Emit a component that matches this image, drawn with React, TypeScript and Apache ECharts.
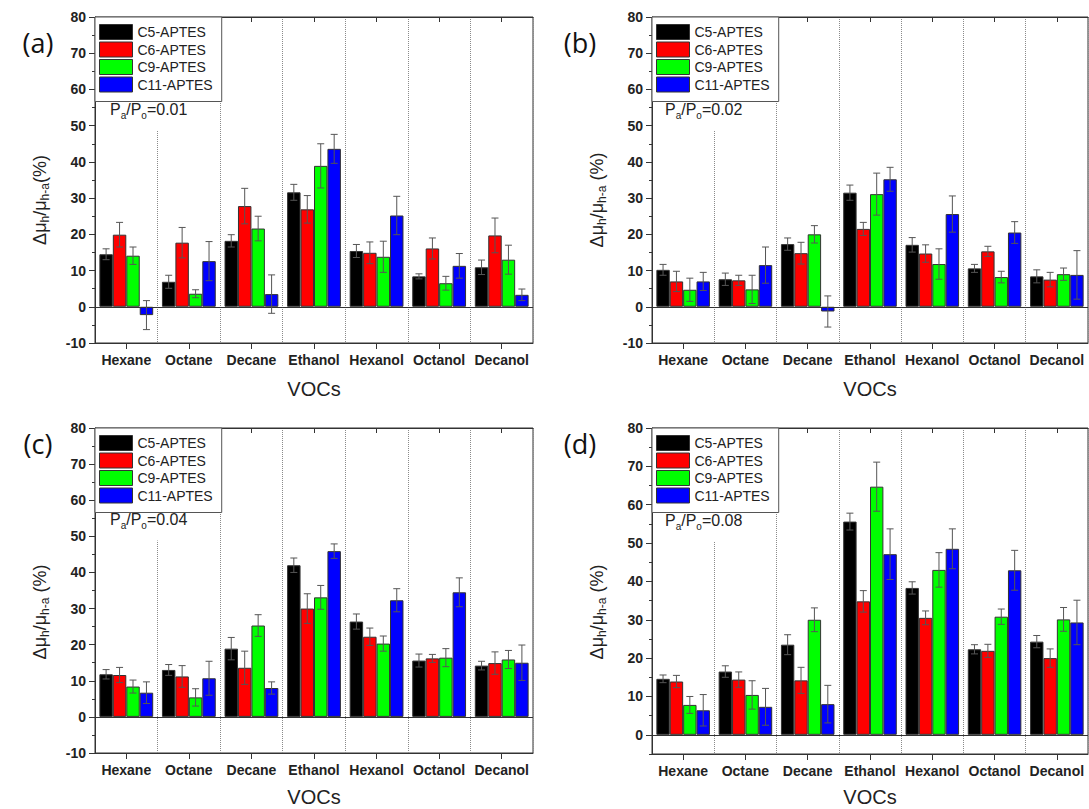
import React, { useEffect, useRef } from 'react';
import * as echarts from 'echarts';

// ---------- data ----------
const categories = ['Hexane', 'Octane', 'Decane', 'Ethanol', 'Hexanol', 'Octanol', 'Decanol'];
const seriesNames = ['C5-APTES', 'C6-APTES', 'C9-APTES', 'C11-APTES'];
const seriesColors = ['#000000', '#ff0000', '#00ff00', '#0000ff'];
const yTickLabels = ['-10', '0', '10', '20', '30', '40', '50', '60', '70', '80'];

// (a) Pa/Po = 0.01
const a_C5 = [14.5, 6.9, 18.2, 31.6, 15.4, 8.4, 10.9];
const a_C5_err = [1.5, 1.8, 1.7, 2.2, 1.8, 0.7, 2.0];
const a_C6 = [19.9, 17.7, 27.8, 26.9, 14.9, 16.1, 19.7];
const a_C6_err = [3.4, 4.2, 4.9, 3.8, 3.0, 2.9, 4.8];
const a_C9 = [14.1, 3.6, 21.6, 38.9, 13.8, 6.5, 13.0];
const a_C9_err = [2.4, 1.1, 3.4, 6.1, 4.3, 1.9, 4.0];
const a_C11 = [-2.3, 12.6, 3.5, 43.6, 25.2, 11.3, 3.3];
const a_C11_err = [4.0, 5.4, 5.3, 4.0, 5.3, 3.4, 1.6];

// (b) Pa/Po = 0.02
const b_C5 = [10.2, 7.6, 17.3, 31.5, 17.1, 10.6, 8.4];
const b_C5_err = [1.5, 1.7, 1.7, 2.1, 2.0, 1.1, 1.8];
const b_C6 = [7.0, 7.3, 14.8, 21.5, 14.7, 15.3, 7.5];
const b_C6_err = [2.8, 1.4, 3.0, 1.8, 2.4, 1.4, 2.0];
const b_C9 = [4.7, 4.8, 20.0, 31.1, 11.8, 8.2, 9.0];
const b_C9_err = [3.2, 3.9, 2.4, 5.8, 4.2, 1.6, 1.7];
const b_C11 = [7.0, 11.5, -1.3, 35.2, 25.6, 20.5, 8.8];
const b_C11_err = [2.5, 5.0, 4.3, 3.3, 5.0, 3.0, 6.7];

// (c) Pa/Po = 0.04
const c_C5 = [11.8, 13.0, 18.9, 42.0, 26.4, 15.6, 14.2];
const c_C5_err = [1.3, 1.5, 3.1, 2.0, 2.1, 1.8, 1.2];
const c_C6 = [11.6, 11.2, 13.6, 30.0, 22.2, 16.2, 14.9];
const c_C6_err = [2.1, 3.0, 4.6, 4.1, 2.4, 1.1, 3.1];
const c_C9 = [8.4, 5.4, 25.3, 33.1, 20.3, 16.4, 15.9];
const c_C9_err = [1.8, 2.4, 3.0, 3.3, 2.1, 2.5, 2.5];
const c_C11 = [6.7, 10.7, 8.0, 45.9, 32.3, 34.5, 15.0];
const c_C11_err = [3.0, 4.7, 1.7, 2.0, 3.2, 4.0, 4.9];

// (d) Pa/Po = 0.08
const d_C5 = [14.6, 16.5, 23.5, 55.6, 38.3, 22.3, 24.3];
const d_C5_err = [1.0, 1.5, 2.6, 2.2, 1.6, 1.2, 1.6];
const d_C6 = [13.9, 14.4, 14.2, 34.8, 30.5, 21.9, 20.0];
const d_C6_err = [1.6, 2.0, 3.4, 2.8, 1.8, 1.7, 2.4];
const d_C9 = [7.8, 10.4, 30.0, 64.7, 43.0, 30.8, 30.1];
const d_C9_err = [2.2, 3.7, 3.1, 6.4, 4.5, 2.0, 3.1];
const d_C11 = [6.4, 7.3, 8.0, 47.1, 48.5, 42.9, 29.3];
const d_C11_err = [4.1, 4.8, 4.9, 6.6, 5.2, 5.2, 5.8];

const panelTags = ['(a)', '(b)', '(c)', '(d)'];
const panelRatios = ['0.01', '0.02', '0.04', '0.08'];
const panelValues = [
  [a_C5, a_C6, a_C9, a_C11],
  [b_C5, b_C6, b_C9, b_C11],
  [c_C5, c_C6, c_C9, c_C11],
  [d_C5, d_C6, d_C9, d_C11],
];
const panelErrors = [
  [a_C5_err, a_C6_err, a_C9_err, a_C11_err],
  [b_C5_err, b_C6_err, b_C9_err, b_C11_err],
  [c_C5_err, c_C6_err, c_C9_err, c_C11_err],
  [d_C5_err, d_C6_err, d_C9_err, d_C11_err],
];
const panelMin = [-10, -10, -10, -5];
const panelMax = 80;

// ---------- layout ----------
const layout = [
  { left: 95, top: 17, width: 438, height: 326, tagX: 38, tagY: 42, yLabX: 40, yLabY: 200, vocY: 389, ratioX: 107, ratioY: 113, space: false },
  { left: 652, top: 17, width: 436, height: 326, tagX: 580, tagY: 42, yLabX: 597, yLabY: 200, vocY: 389, ratioX: 662, ratioY: 113, space: true },
  { left: 95, top: 428, width: 438, height: 325, tagX: 38, tagY: 443, yLabX: 40, yLabY: 612, vocY: 797, ratioX: 107, ratioY: 523, space: true },
  { left: 652, top: 428, width: 436, height: 326, tagX: 580, tagY: 443, yLabX: 597, yLabY: 612, vocY: 797, ratioX: 662, ratioY: 524, space: true },
];

const FONT = '"Liberation Sans", Arial, Helvetica, sans-serif';
const GAP = 0.14;

function buildOption() {
  const grid: any[] = [];
  const xAxis: any[] = [];
  const yAxis: any[] = [];
  const series: any[] = [];
  const legend: any[] = [];
  const graphic: any[] = [];

  layout.forEach((L, i) => {
    grid.push({
      left: L.left, top: L.top, width: L.width, height: L.height,
      show: true, borderColor: '#333', borderWidth: 1, backgroundColor: 'transparent',
    });
    xAxis.push({
      type: 'category', gridIndex: i, data: categories, position: 'bottom',
      axisLine: { show: true, onZero: false, lineStyle: { color: '#333', width: 1 } },
      axisTick: { show: true, interval: 0, alignWithLabel: true, length: 6, inside: false, lineStyle: { color: '#333' } },
      axisLabel: { interval: 0, fontFamily: FONT, fontSize: 14, fontWeight: 'bold', color: '#222', margin: 10 },
      splitLine: { show: true, interval: 0, lineStyle: { type: 'dotted', color: '#8a8a8a', width: 1 } },
    });
    xAxis.push({
      type: 'category', gridIndex: i, data: categories, position: 'top',
      axisLine: { show: true, onZero: false, lineStyle: { color: '#333', width: 1 } },
      axisTick: { show: true, interval: 0, alignWithLabel: true, length: 5, inside: true, lineStyle: { color: '#333' } },
      axisLabel: { show: false, interval: 0 },
      splitLine: { show: false },
    });
    const min = panelMin[i];
    const major = yTickLabels.map(Number).filter((v) => v >= min && v <= panelMax);
    const minor: number[] = [];
    for (let v = min; v <= panelMax; v += 5) if (Math.abs(v % 10) === 5) minor.push(v);
    yAxis.push({
      type: 'value', gridIndex: i, min, max: panelMax, interval: 5,
      axisLine: { show: true, onZero: false, lineStyle: { color: '#333', width: 1 } },
      axisTick: { show: true, length: 6, customValues: major, lineStyle: { color: '#333' } },
      axisLabel: { customValues: major, fontFamily: FONT, fontSize: 14, fontWeight: 'bold', color: '#222', margin: 9 },
      splitLine: { show: false },
    });
    yAxis.push({
      type: 'value', gridIndex: i, min, max: panelMax, interval: 5, position: 'left',
      axisLine: { show: false },
      axisTick: { show: true, length: 3, customValues: minor, lineStyle: { color: '#333' } },
      axisLabel: { show: false },
      splitLine: { show: false },
    });

    const vals = panelValues[i];
    const errs = panelErrors[i];
    seriesNames.forEach((name, s) => {
      const bar: any = {
        type: 'bar', name, xAxisIndex: 2 * i, yAxisIndex: 2 * i,
        data: vals[s],
        itemStyle: { color: seriesColors[s], borderColor: '#333', borderWidth: 1 },
        barGap: '0%', barCategoryGap: (GAP * 100) + '%',
        z: 2, silent: true,
      };
      if (s === 0) {
        bar.markLine = {
          silent: true, symbol: ['none', 'none'], label: { show: false },
          lineStyle: { color: '#333', width: 1, type: 'solid' },
          data: [{ yAxis: 0 }],
        };
      }
      series.push(bar);
      series.push({
        type: 'custom', xAxisIndex: 2 * i, yAxisIndex: 2 * i, z: 6, silent: true,
        encode: { x: 0, y: 1 },
        data: vals[s].map((v, k) => [k, v, errs[s][k]]),
        renderItem: (params: any, api: any) => {
          const ci = api.value(0);
          const v = api.value(1);
          const e = api.value(2);
          const band = api.size([1, 0])[0];
          const bw = (band * (1 - GAP)) / 4;
          const x = api.coord([ci, 0])[0] + (s - 1.5) * bw;
          const yt = api.coord([ci, v + e])[1];
          const yb = api.coord([ci, v - e])[1];
          const cap = 3.5;
          const st = { stroke: '#555', lineWidth: 1 };
          return {
            type: 'group',
            children: [
              { type: 'line', shape: { x1: x, y1: yt, x2: x, y2: yb }, style: st },
              { type: 'line', shape: { x1: x - cap, y1: yt, x2: x + cap, y2: yt }, style: st },
              { type: 'line', shape: { x1: x - cap, y1: yb, x2: x + cap, y2: yb }, style: st },
            ],
          };
        },
      });
    });

    legend.push({
      data: seriesNames, orient: 'vertical', left: L.left, top: L.top, z: 8,
      itemWidth: 33, itemHeight: 15, itemGap: 1.5, padding: [7, 9, 9, 4],
      borderColor: '#555', borderWidth: 1, backgroundColor: '#fff', borderRadius: 0,
      icon: 'rect', selectedMode: false,
      itemStyle: { borderColor: '#333', borderWidth: 1 },
      textStyle: { fontFamily: FONT, fontSize: 14, color: '#222', lineHeight: 15 },
    });

    graphic.push({
      type: 'text', x: L.tagX, y: L.tagY, z: 10,
      style: { text: panelTags[i], fontFamily: '"Open Sans", "Liberation Sans", sans-serif', fontSize: 27, fill: '#111', align: 'center', verticalAlign: 'middle' },
    });
    graphic.push({
      type: 'text', x: L.left + L.width / 2, y: L.vocY, z: 10,
      style: { text: 'VOCs', fontFamily: FONT, fontSize: 20, fill: '#222', align: 'center', verticalAlign: 'middle' },
    });
    graphic.push({
      type: 'text', x: L.yLabX, y: L.yLabY, rotation: Math.PI / 2, z: 10,
      style: {
        text: '{n|Δμ}{s|h}{n|/μ}{s|h-a}{n|' + (L.space ? ' (%)' : '(%)') + '}',
        align: 'center', verticalAlign: 'middle',
        rich: {
          n: { fontFamily: FONT, fontSize: 18, lineHeight: 22, verticalAlign: 'middle', fill: '#222' },
          s: { fontFamily: FONT, fontSize: 12, lineHeight: 12, verticalAlign: 'bottom', fill: '#222' },
        },
      },
    });
    graphic.push({
      type: 'text', x: L.ratioX, y: L.ratioY, z: 3,
      style: {
        text: '{n|P}{s|a}{n|/P}{s|o}{n|=' + panelRatios[i] + '}',
        align: 'left', verticalAlign: 'middle',
        backgroundColor: '#fff', padding: [3, 3, 10, 3],
        rich: {
          n: { fontFamily: FONT, fontSize: 16, lineHeight: 22, verticalAlign: 'middle', fill: '#222' },
          s: { fontFamily: FONT, fontSize: 10, lineHeight: 10, verticalAlign: 'bottom', fill: '#222' },
        },
      },
    });
  });

  return {
    animation: false,
    backgroundColor: '#ffffff',
    textStyle: { fontFamily: FONT },
    grid, xAxis, yAxis, series, legend, graphic,
  };
}

export default function App() {
  const ref = useRef<HTMLDivElement>(null);
  useEffect(() => {
    if (!ref.current) return;
    const chart = echarts.init(ref.current, undefined, { renderer: 'svg' });
    chart.setOption(buildOption() as any);
    return () => chart.dispose();
  }, []);
  return (
    <div
      ref={ref}
      style={{ position: 'fixed', left: 0, top: 0, width: 1089, height: 809, background: '#fff' }}
    />
  );
}
